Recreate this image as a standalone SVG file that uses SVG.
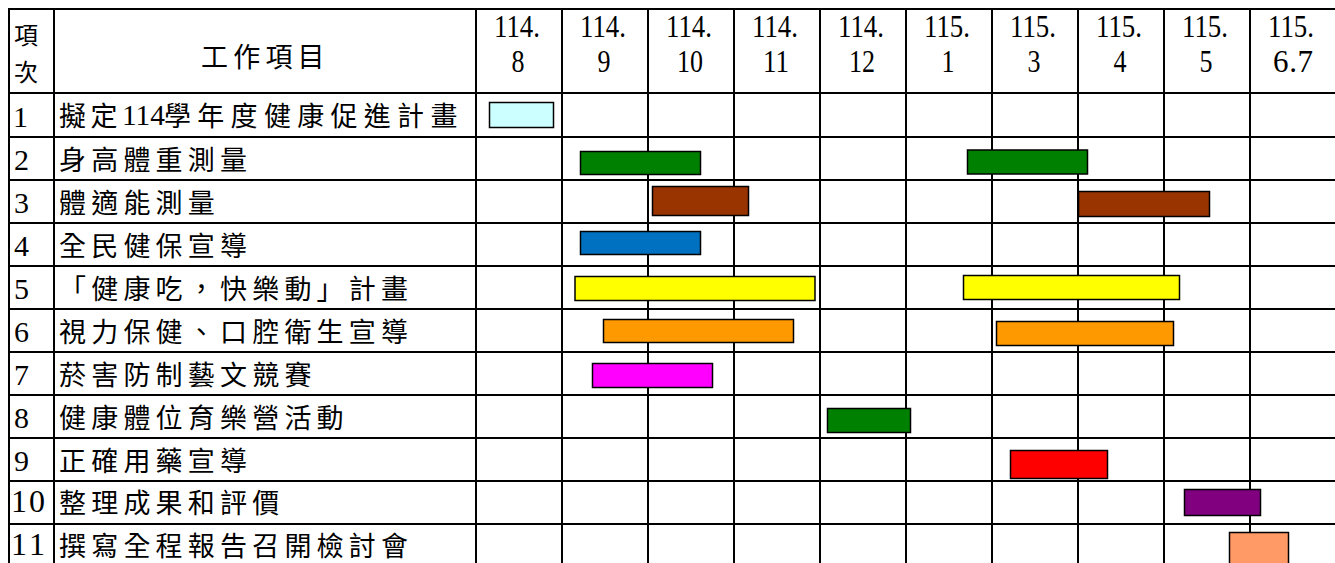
<svg xmlns="http://www.w3.org/2000/svg" width="1335" height="563" viewBox="0 0 1335 563">
<style>
.grid line{stroke:#000;stroke-width:2}
.num{font-family:"Liberation Serif",serif;font-size:30px;fill:#000}
.mon{font-family:"Liberation Serif",serif;font-size:31px;fill:#000;text-anchor:middle}
.lbl{font-family:"Noto Sans CJK TC","Noto Sans CJK SC",sans-serif;font-size:27px;font-weight:400;letter-spacing:5.2px;fill:#000}
.hx{font-family:"Noto Sans CJK TC","Noto Sans CJK SC",sans-serif;font-size:24px;fill:#000}
.dig{font-family:"Liberation Serif",serif;font-size:29px;fill:#000}
.bar{stroke:#000;stroke-width:1.5}
</style>
<rect width="1335" height="563" fill="#fff"/>
<g id="grid" class="grid">
<line x1="9" y1="9" x2="1340" y2="9"/>
<line x1="9" y1="93" x2="1340" y2="93"/>
<line x1="9" y1="137" x2="1340" y2="137"/>
<line x1="9" y1="180" x2="1340" y2="180"/>
<line x1="9" y1="223" x2="1340" y2="223"/>
<line x1="9" y1="266" x2="1340" y2="266"/>
<line x1="9" y1="309" x2="1340" y2="309"/>
<line x1="9" y1="352" x2="1340" y2="352"/>
<line x1="9" y1="395" x2="1340" y2="395"/>
<line x1="9" y1="438" x2="1340" y2="438"/>
<line x1="9" y1="481" x2="1340" y2="481"/>
<line x1="9" y1="524" x2="1340" y2="524"/>
<line x1="9" y1="8" x2="9" y2="570"/>
<line x1="54" y1="8" x2="54" y2="570"/>
<line x1="476" y1="8" x2="476" y2="570"/>
<line x1="562" y1="8" x2="562" y2="570"/>
<line x1="648" y1="8" x2="648" y2="570"/>
<line x1="734" y1="8" x2="734" y2="570"/>
<line x1="820" y1="8" x2="820" y2="570"/>
<line x1="906" y1="8" x2="906" y2="570"/>
<line x1="992" y1="8" x2="992" y2="570"/>
<line x1="1078" y1="8" x2="1078" y2="570"/>
<line x1="1164" y1="8" x2="1164" y2="570"/>
<line x1="1250" y1="8" x2="1250" y2="570"/>
</g>
<g id="header">
<text class="hx" x="14" y="44">項</text>
<text class="hx" x="14" y="81">次</text>
<text class="lbl" x="201" y="67">工作項目</text>
<text class="mon" x="517" y="37" textLength="46" lengthAdjust="spacingAndGlyphs">114.</text>
<text class="mon" x="518" y="72" textLength="13" lengthAdjust="spacingAndGlyphs">8</text>
<text class="mon" x="603" y="37" textLength="46" lengthAdjust="spacingAndGlyphs">114.</text>
<text class="mon" x="604" y="72" textLength="13" lengthAdjust="spacingAndGlyphs">9</text>
<text class="mon" x="689" y="37" textLength="46" lengthAdjust="spacingAndGlyphs">114.</text>
<text class="mon" x="690" y="72" textLength="26" lengthAdjust="spacingAndGlyphs">10</text>
<text class="mon" x="775" y="37" textLength="46" lengthAdjust="spacingAndGlyphs">114.</text>
<text class="mon" x="776" y="72" textLength="26" lengthAdjust="spacingAndGlyphs">11</text>
<text class="mon" x="861" y="37" textLength="46" lengthAdjust="spacingAndGlyphs">114.</text>
<text class="mon" x="862" y="72" textLength="26" lengthAdjust="spacingAndGlyphs">12</text>
<text class="mon" x="947" y="37" textLength="46" lengthAdjust="spacingAndGlyphs">115.</text>
<text class="mon" x="948" y="72" textLength="13" lengthAdjust="spacingAndGlyphs">1</text>
<text class="mon" x="1033" y="37" textLength="46" lengthAdjust="spacingAndGlyphs">115.</text>
<text class="mon" x="1034" y="72" textLength="13" lengthAdjust="spacingAndGlyphs">3</text>
<text class="mon" x="1119" y="37" textLength="46" lengthAdjust="spacingAndGlyphs">115.</text>
<text class="mon" x="1120" y="72" textLength="13" lengthAdjust="spacingAndGlyphs">4</text>
<text class="mon" x="1205" y="37" textLength="46" lengthAdjust="spacingAndGlyphs">115.</text>
<text class="mon" x="1206" y="72" textLength="13" lengthAdjust="spacingAndGlyphs">5</text>
<text class="mon" x="1291" y="37" textLength="46" lengthAdjust="spacingAndGlyphs">115.</text>
<text class="mon" x="1293" y="72" textLength="40" lengthAdjust="spacing">6.7</text>
</g>
<g id="row1">
<text class="num" x="13" y="127">1</text>
<text class="lbl" x="59" y="126" style="letter-spacing:4.5px">擬定</text>
<text class="dig" x="122" y="125" textLength="43" lengthAdjust="spacingAndGlyphs">114</text>
<text class="lbl" x="164" y="126" style="letter-spacing:6.3px">學年度健康促進計畫</text>
<rect class="bar" x="489.5" y="102.5" width="64" height="25" fill="#CCFFFF"/>
</g>
<g id="row2">
<text class="num" x="14" y="170">2</text>
<text class="lbl" x="59" y="170">身高體重測量</text>
<rect class="bar" x="580.5" y="151.5" width="120" height="23" fill="#008000"/>
<rect class="bar" x="967.5" y="150" width="120" height="24" fill="#008000"/>
</g>
<g id="row3">
<text class="num" x="14" y="213">3</text>
<text class="lbl" x="59" y="213">體適能測量</text>
<rect class="bar" x="652.5" y="186.5" width="96" height="29" fill="#993300"/>
<rect class="bar" x="1078.5" y="191.5" width="131" height="25" fill="#993300"/>
</g>
<g id="row4">
<text class="num" x="14" y="256">4</text>
<text class="lbl" x="59" y="256">全民健保宣導</text>
<rect class="bar" x="580.5" y="231.5" width="120" height="23" fill="#0070C0"/>
</g>
<g id="row5">
<text class="num" x="14" y="299">5</text>
<text class="lbl" x="59" y="299">「健康吃，快樂動」計畫</text>
<rect class="bar" x="575" y="276.5" width="240" height="24" fill="#FFFF00"/>
<rect class="bar" x="963.5" y="275.5" width="216" height="24" fill="#FFFF00"/>
</g>
<g id="row6">
<text class="num" x="14" y="342">6</text>
<text class="lbl" x="59" y="342">視力保健、口腔衛生宣導</text>
<rect class="bar" x="603.5" y="319.5" width="190" height="23" fill="#FF9900"/>
<rect class="bar" x="996.5" y="321.5" width="177" height="24" fill="#FF9900"/>
</g>
<g id="row7">
<text class="num" x="14" y="385">7</text>
<text class="lbl" x="59" y="385">菸害防制藝文競賽</text>
<rect class="bar" x="592.5" y="363.5" width="120" height="24" fill="#FF00FF"/>
</g>
<g id="row8">
<text class="num" x="14" y="428">8</text>
<text class="lbl" x="59" y="428">健康體位育樂營活動</text>
<rect class="bar" x="827.5" y="408.5" width="83" height="24" fill="#008000"/>
</g>
<g id="row9">
<text class="num" x="14" y="471">9</text>
<text class="lbl" x="59" y="471">正確用藥宣導</text>
<rect class="bar" x="1010.5" y="450.5" width="97" height="28" fill="#FF0000"/>
</g>
<g id="row10">
<text class="num" x="11" y="512" style="font-size:32px" textLength="34" lengthAdjust="spacing">10</text>
<text class="lbl" x="59" y="513">整理成果和評價</text>
<rect class="bar" x="1184.5" y="489.5" width="76" height="26" fill="#800080"/>
</g>
<g id="row11">
<text class="num" x="11" y="555" style="font-size:32px" textLength="34" lengthAdjust="spacing">11</text>
<text class="lbl" x="59" y="556">撰寫全程報告召開檢討會</text>
<rect class="bar" x="1229.5" y="532.5" width="59" height="40" fill="#FF9966"/>
</g>
</svg>
